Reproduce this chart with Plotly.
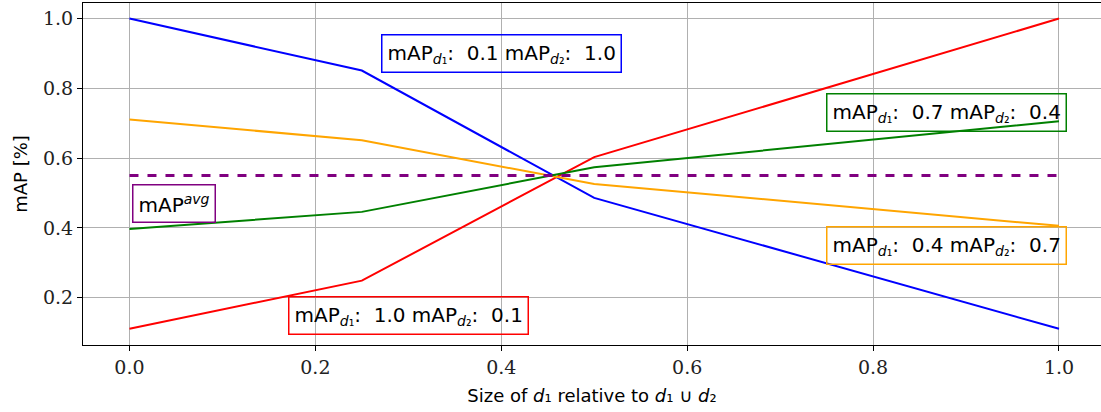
import plotly.graph_objects as go

# Fraction of d1 in the combined set
x_size = [0.0, 0.25, 0.5, 1.0]

# mAP curves for the four dataset pairings
map_blue = [1.0, 0.851, 0.486, 0.111]
map_red = [0.111, 0.249, 0.603, 1.0]
map_orange = [0.711, 0.651, 0.526, 0.406]
map_green = [0.397, 0.446, 0.574, 0.706]
map_avg = 0.55

tick_vals_x = [0.0, 0.2, 0.4, 0.6, 0.8, 1.0]
tick_text_x = ["0.0", "0.2", "0.4", "0.6", "0.8", "1.0"]
tick_vals_y = [0.2, 0.4, 0.6, 0.8, 1.0]
tick_text_y = ["0.2", "0.4", "0.6", "0.8", "1.0"]

series = [
    (map_blue, "#0000ff"),
    (map_red, "#ff0000"),
    (map_orange, "#ffa500"),
    (map_green, "#008000"),
]

fig = go.Figure()
for values, color in series:
    fig.add_trace(go.Scatter(x=x_size, y=values, mode="lines",
                             line=dict(color=color, width=2), showlegend=False))

fig.add_trace(go.Scatter(x=[x_size[0], x_size[-1]], y=[map_avg, map_avg], mode="lines",
                         line=dict(color="#800080", width=3, dash="dash"),
                         showlegend=False))

sub1 = "mAP<sub><i>d</i>₁</sub>"
sub2 = "mAP<sub><i>d</i>₂</sub>"

labels = [
    (0.40, 0.90, f"{sub1}:  0.1 {sub2}:  1.0", "#0000ff"),
    (0.879, 0.731, f"{sub1}:  0.7 {sub2}:  0.4", "#008000"),
    (0.879, 0.351, f"{sub1}:  0.4 {sub2}:  0.7", "#ffa500"),
    (0.30, 0.150, f"{sub1}:  1.0 {sub2}:  0.1", "#ff0000"),
    (0.048, 0.469, "mAP<sup><i>avg</i></sup>", "#800080"),
]
for lx, ly, txt, col in labels:
    fig.add_annotation(x=lx, y=ly, text=txt, showarrow=False,
                       xanchor="center", yanchor="middle",
                       font=dict(family="DejaVu Sans", size=20, color="black"),
                       bgcolor="rgba(255,255,255,0)", bordercolor=col,
                       borderwidth=1.5, borderpad=5)

axis_common = dict(showgrid=True, gridcolor="#b0b0b0", gridwidth=1,
                   showline=True, linecolor="black", linewidth=1.2,
                   ticks="outside", ticklen=5, tickcolor="black", zeroline=False,
                   tickfont=dict(family="DejaVu Serif", size=19, color="#222"))

fig.update_xaxes(range=[-0.05, 1.0452], tickvals=tick_vals_x, ticktext=tick_text_x,
                 mirror=True,
                 title=dict(text="Size of <i>d</i>₁ relative to <i>d</i>₁ ∪ <i>d</i>₂",
                            font=dict(family="DejaVu Sans", size=18, color="black"),
                            standoff=12),
                 **axis_common)
fig.update_yaxes(range=[0.0645, 1.0446], tickvals=tick_vals_y, ticktext=tick_text_y,
                 mirror=False,
                 title=dict(text="mAP [%]",
                            font=dict(family="DejaVu Sans", size=18, color="black"),
                            standoff=10),
                 **axis_common)

fig.update_layout(width=1101, height=412, plot_bgcolor="white", paper_bgcolor="white",
                  margin=dict(l=83, r=0, t=3, b=67), showlegend=False)

fig.write_html("out.html")
